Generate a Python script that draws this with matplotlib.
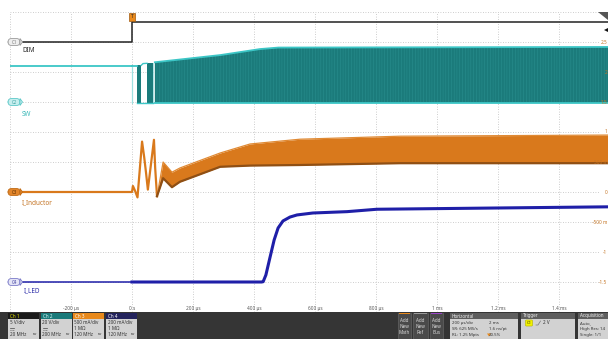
import matplotlib
matplotlib.use("Agg")
import matplotlib.pyplot as plt
from matplotlib.patches import Rectangle, Polygon, FancyBboxPatch
from matplotlib.lines import Line2D

W, H = 608, 339
plt.rcParams['font.family'] = ['Noto Sans', 'DejaVu Sans']
plt.rcParams['hatch.linewidth'] = 0.35

# ---------------- waveform data (time in microseconds) ----------------
# Ch1 DIM (V)
dim_t = [-400, 0, 0, 1600]
dim_v = [0.0, 0.0, 3.3, 3.3]

# Ch2 SW (V): idle level before start-up, first burst pulses, then switching envelope
sw_idle_t = [-400, 0, 0, 0, 16]
sw_idle_v = [24.0, 24.0, -0.5, 24.0, 24.0]
sw_pulse_start = [16, 49]
sw_pulse_end = [30, 69]
sw_pulse_top = [24.4, 25.8]
sw_gap_t = [30, 36, 49]
sw_gap_v = [24.4, 25.6, 25.8]
sw_env_t = [75, 290, 420, 480, 1600]
sw_env_top = [26.5, 31.3, 35.3, 36.3, 36.7]
sw_env_bot = [-0.6, -0.6, -0.6, -0.6, -0.6]

# Ch3 I_Inductor (A): start-up spikes, then ripple envelope
il_spike_t = [-400, 0, 3, 10, 18, 33, 40, 46, 52, 72, 76, 82]
il_spike_a = [0.0, 0.0, 0.10, 0.02, -0.09, 0.84, 0.58, 0.32, 0.04, 0.87, 0.40, -0.07]
il_env_t = [82, 102, 131, 157, 289, 387, 551, 879, 1600]
il_env_top = [-0.07, 0.50, 0.33, 0.40, 0.65, 0.80, 0.88, 0.93, 0.95]
il_env_bot = [-0.07, 0.23, 0.08, 0.17, 0.42, 0.44, 0.45, 0.48, 0.48]

# Ch4 I_LED (mA)
led_t = [0, 425, 430, 439, 452, 466, 479, 495, 518, 541, 593, 705, 803, 1600]
led_ma = [0, 0, 2, 47, 160, 280, 360, 407, 433, 447, 460, 469, 485, 502]

# Channel scales (units per division) and ground positions (division)
ch_scale = {"DIM": 5.0, "SW": 20.0, "IL": 0.5, "LED": 200.0}
ch_ground = {"DIM": 5.0, "SW": 3.0, "IL": 0.0, "LED": -3.0}

time_ticks = [-200, 0, 200, 400, 600, 800, 1000, 1200, 1400]
time_labels = ["-200 µs", "0 s", "200 µs", "400 µs", "600 µs", "800 µs", "1 ms", "1.2 ms", "1.4 ms"]
il_tick_vals = [2.5, 2.0, 1.5, 1.0, 0.5, 0.0, -0.5, -1.0, -1.5]
il_tick_labels = ["2.5", "2", "1.5", "1", "500 m", "0", "-500 m", "-1", "-1.5"]


def div(ch, vals):
    return [ch_ground[ch] + v / ch_scale[ch] for v in vals]


fig = plt.figure(figsize=(W / 100, H / 100), dpi=100)
fig.patch.set_facecolor("white")

ax = fig.add_axes([10 / W, 27 / H, 610 / W, 300 / H])
ax.set_xlim(-400, 1600)
ax.set_ylim(-4, 6)
ax.axis("off")

# graticule
grid_kw = dict(color="#bdbdbd", lw=0.6, ls=(0, (1.0, 2.0)), zorder=1)
for t in [-400] + time_ticks:
    ax.plot([t, t], [-4, 6], **grid_kw)
for y in range(-3, 7):
    ax.plot([-400, 1532], [y, y], **grid_kw)

for t, lab in zip(time_ticks, time_labels):
    ax.text(t, -3.87, lab, ha="center", va="center", fontsize=3.4, color="#555555")

# Ch1 DIM
ax.plot(dim_t, div("DIM", dim_v), color="#222222", lw=1.1, zorder=5)

# Ch2 SW
teal_dark = "#1b7b7b"
teal_light = "#3cc6c6"
ax.plot(sw_idle_t[:2], div("SW", sw_idle_v[:2]), color=teal_light, lw=1.3, zorder=4)
ax.plot(sw_idle_t[1:4], div("SW", sw_idle_v[1:4]), color="#9fe0e0", lw=0.8, zorder=4)
ax.plot(sw_idle_t[3:], div("SW", sw_idle_v[3:]), color=teal_light, lw=1.3, zorder=4)
for t0, t1, top in zip(sw_pulse_start, sw_pulse_end, sw_pulse_top):
    ax.fill_between([t0, t1], div("SW", [-0.6, -0.6]), div("SW", [top, top]),
                    color=teal_dark, lw=0, zorder=3)
ax.plot(sw_gap_t, div("SW", sw_gap_v), color=teal_light, lw=1.0, zorder=4)
ax.plot([69, 69], div("SW", [-0.6, 25.8]), color="#9fe0e0", lw=0.6, zorder=3)
ax.fill_between(sw_env_t, div("SW", sw_env_bot), div("SW", sw_env_top),
                facecolor=teal_dark, edgecolor="#2a9090", hatch="||||||", lw=0, zorder=3)
ax.plot(sw_env_t, div("SW", sw_env_top), color=teal_light, lw=1.3, zorder=4)
ax.plot(sw_env_t, div("SW", sw_env_bot), color=teal_light, lw=1.3, zorder=4)
ax.plot([16, 69], div("SW", [-0.6, -0.6]), color=teal_light, lw=1.0, zorder=4)

# Ch3 I_Inductor
orange = "#d9791c"
ax.plot(il_spike_t, div("IL", il_spike_a), color=orange, lw=1.6, zorder=4)
ax.fill_between(il_env_t, div("IL", il_env_bot), div("IL", il_env_top),
                color=orange, lw=0, zorder=3)
ax.plot(il_env_t, div("IL", il_env_top), color="#e08a34", lw=0.9, zorder=4)
ax.plot(il_env_t, div("IL", il_env_bot), color="#8f4f14", lw=1.6, zorder=4)

# Ch4 I_LED
blue = "#1f1fa8"
ax.plot([-400, 0], div("LED", [0, 0]), color=blue, lw=1.1, zorder=4)
ax.plot(led_t, div("LED", led_ma), color=blue, lw=2.2, zorder=4)


# ---------------- overlays in pixel coordinates ----------------
def fx(x):
    return x / W


def fy(y):
    return 1 - y / H


def rect(x0, y0, x1, y1, **kw):
    fig.add_artist(Rectangle((fx(x0), fy(y1)), fx(x1) - fx(x0), fy(y0) - fy(y1),
                             transform=fig.transFigure, **kw))


def ftext(x, y, s, **kw):
    kw.setdefault("fontsize", 3.3)
    kw.setdefault("va", "center")
    fig.text(fx(x), fy(y), s, **kw)


def fline(xs, ys, **kw):
    fig.add_artist(Line2D([fx(x) for x in xs], [fy(y) for y in ys],
                          transform=fig.transFigure, **kw))


# vertical scale readout of the selected channel (Ch3)
for v, lab in zip(il_tick_vals, il_tick_labels):
    y = 12 + (6 - div("IL", [v])[0]) * 30
    ftext(607.5, y, lab, ha="right", fontsize=3.4, color="#c47424", zorder=6)

# channel tags and names
tags = [("C1", 42, "#eeeeee", "#9a9a9a", "#777777"),
        ("C2", 102, "#c6eeee", "#5cc8c8", "#3aa0a0"),
        ("C3", 192, "#e2852a", "#c06a14", "#5a2e00"),
        ("C4", 282, "#e4e4f6", "#7a7ac8", "#4040a0")]
for name, y, fc, ec, tc in tags:
    fig.add_artist(FancyBboxPatch((fx(8), fy(y + 3.5)), fx(12), fy(0) - fy(7),
                                  boxstyle="round,pad=0,rounding_size=0.006",
                                  transform=fig.transFigure, fc=fc, ec=ec, lw=0.6,
                                  mutation_aspect=W / H))
    fig.add_artist(Polygon([[fx(20), fy(y - 3.5)], [fx(22.5), fy(y)], [fx(20), fy(y + 3.5)]],
                           closed=True, transform=fig.transFigure, fc=fc, ec=ec, lw=0.6))
    ftext(14.5, y, name, ha="center", fontsize=3.2, color=tc)

ftext(22, 50, "DIM", fontsize=4.6, color="#222222", fontweight="bold")
ftext(22, 114, "SW", fontsize=4.6, color="#3ab8b8", fontweight="bold")
ftext(22, 203, "I_Inductor", fontsize=4.6, color="#c47424")
ftext(24, 291, "I_LED", fontsize=4.6, color="#2a2aa8", fontweight="bold")

# trigger position marker
ftext(132, 17, "T", ha="center", fontsize=3.6, color="#222222", fontweight="bold",
      bbox=dict(boxstyle="square,pad=0.25", fc="#e8891c", ec="#a05a10", lw=0.5))
fig.add_artist(Polygon([[fx(598), fy(12)], [fx(610), fy(12)], [fx(608), fy(20)]],
                       closed=True, transform=fig.transFigure, fc="#555555", ec="none"))
fig.add_artist(Polygon([[fx(604), fy(30)], [fx(610), fy(27)], [fx(610), fy(33)]],
                       closed=True, transform=fig.transFigure, fc="#111111", ec="none"))

# ---------------- bottom status bar ----------------
rect(0, 312, 608, 339, fc="#353535", ec="none")

body = "#d2d2d2"
chan_boxes = [
    (8, "Ch 1", "#1a1a1a", "#e8e800", ["5 V/div", None, "20 MHz"]),
    (41, "Ch 2", "#1a7a7a", "#dff8f8", ["20 V/div", None, "200 MHz"]),
    (73, "Ch 3", "#e8891c", "#ffffff", ["500 mA/div", "1 MΩ", "120 MHz"]),
    (106, "Ch 4", "#23235c", "#ffffff", ["200 mA/div", "1 MΩ", "120 MHz"]),
]
for x0, title, hc, tc, lines in chan_boxes:
    rect(x0, 313, x0 + 31, 319, fc=hc, ec="none")
    rect(x0, 319, x0 + 31, 339, fc=body, ec="none")
    ftext(x0 + 2, 316, title, color=tc, fontweight="bold")
    for i, s in enumerate(lines):
        if s is None:
            # DC coupling icon
            fline([x0 + 2, x0 + 6], [328, 328], color="#444444", lw=0.5)
            fline([x0 + 2, x0 + 6], [330, 330], color="#444444", lw=0.5, ls=(0, (1, 0.8)))
        else:
            ftext(x0 + 1.5, 323 + 6 * i, s, color="#333333")
    ftext(x0 + 29, 335, "ᴮᵂ", ha="right", color="#333333", fontsize=3.0)

for x0, x1, stripe, word in [(398, 411, "#e8891c", "Math"), (413, 428, "#9a9a9a", "Ref"),
                             (430, 443, "#9a44c8", "Bus")]:
    rect(x0, 313, x1, 339, fc="#4a4a4a", ec="#6c6c6c", lw=0.4)
    rect(x0 + 1, 313, x1 - 1, 314.2, fc=stripe, ec="none")
    for i, s in enumerate(["Add", "New", word]):
        ftext((x0 + x1) / 2, 321 + 6 * i, s, ha="center", color="#d8d8d8")

panels = [
    (450, 518, "Horizontal", [("200 µs/div", "2 ms"), ("SR: 625 MS/s", "1.6 ns/pt"),
                              ("RL: 1.25 Mpts", "20.5%")]),
    (521, 575, "Trigger", []),
    (578, 612, "Acquisition", [("Auto,", ""), ("High Res: 14", ""), ("Single: 1/1", "")]),
]
for x0, x1, title, rows in panels:
    rect(x0, 313, x1, 319, fc="#5e5e5e", ec="none")
    rect(x0, 319, x1, 339, fc=body, ec="none")
    ftext(x0 + 2, 316, title, color="#f0f0f0")
    for i, (a, b) in enumerate(rows):
        ftext(x0 + 2, 323 + 6 * i, a, fontsize=3.1, color="#333333")
        if b:
            ftext(x0 + 39, 323 + 6 * i, b, fontsize=3.1, color="#333333")
# horizontal position marker in the Horizontal panel
fig.add_artist(Polygon([[fx(487), fy(333.5)], [fx(491), fy(333.5)], [fx(489), fy(336.5)]],
                       closed=True, transform=fig.transFigure, fc="#e8891c", ec="none"))

ftext(526.5, 323, "C1", fontsize=3.0, color="#333300",
      bbox=dict(boxstyle="round,pad=0.25", fc="#f2f200", ec="#b0b000", lw=0.4))
fline([536, 538, 540.5], [325, 325, 321], color="#777777", lw=0.5)
ftext(543, 323, "2 V", color="#333333")

fig.savefig("out.png", dpi=100)
